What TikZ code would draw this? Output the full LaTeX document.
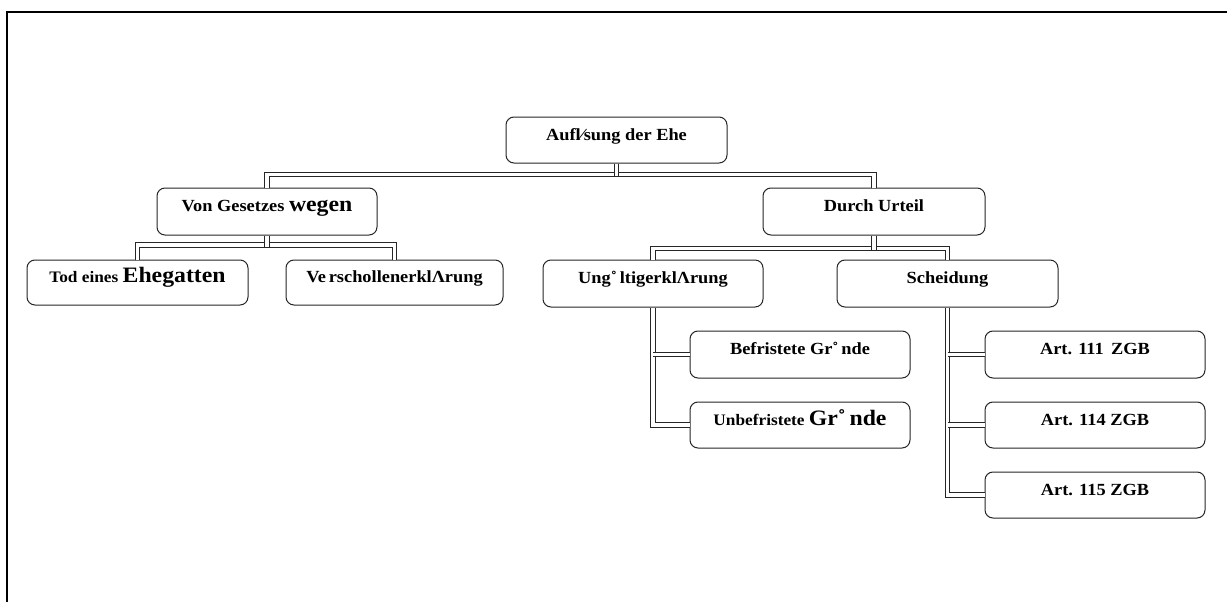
\documentclass[tikz,border=0pt]{standalone}
\usepackage{fontspec}
\setmainfont{Liberation Serif}[FakeStretch=1.08]
\usetikzlibrary{calc}
\newcommand{\normtxt}{\fontsize{17}{19}\selectfont\bfseries}
\newcommand{\smalltxt}{\fontsize{16}{18}\selectfont\bfseries}
\newcommand{\bigtxt}{\fontsize{22}{24}\selectfont\bfseries}
\tikzset{
  box/.style={draw=black!85, line width=1pt, rounded corners=8pt, fill=white,
    inner sep=0pt, text=black, font=\normtxt, text height=6pt, text depth=6pt, anchor=center},
  pipe/.style={draw=black!85, line width=1.1pt, double=white, double distance=3.4pt, line join=miter},
}
\begin{document}
\begin{tikzpicture}[x=1pt,y=-1pt]
\path[use as bounding box] (0,0) rectangle (1227,602);
\begin{scope}
\clip (0,0) rectangle (1227,602);
\draw[line width=2.2pt] (7,620) -- (7,12) -- (1240,12);
\end{scope}
% nodes
\node[box, minimum width=221, minimum height=46] (root) at (616.5,140) {Aufl⁄sung der Ehe};
\node[box, minimum width=220, minimum height=47] (vg) at (267,211.5) {{\normtxt Von Gesetzes }{\bigtxt wegen}};
\node[box, minimum width=222, minimum height=47] (du) at (874,211.5) {Durch Urteil};
\node[box, minimum width=221, minimum height=45] (tod) at (137.5,282.5) {{\smalltxt Tod eines }{\bigtxt Ehegatten}};
\node[box, minimum width=217, minimum height=45] (ver) at (394.5,282.5) {Ve\,rschollenerklΛrung};
\node[box, minimum width=220, minimum height=47] (ung) at (653,283.5) {Ung˚\,ltigerklΛrung};
\node[box, minimum width=221, minimum height=47] (sch) at (947.5,283.5) {Scheidung};
\node[box, minimum width=220, minimum height=47] (bef) at (800,354.5) {Befristete Gr˚\,nde};
\node[box, minimum width=220, minimum height=46] (unb) at (800,425) {{\smalltxt Unbefristete }{\bigtxt Gr˚\,nde}};
\node[box, minimum width=220, minimum height=47] (a111) at (1095,354.5) {Art. 111\, ZGB};
\node[box, minimum width=220, minimum height=46] (a114) at (1095,425) {Art. 114 ZGB};
\node[box, minimum width=220, minimum height=46] (a115) at (1095,495) {Art. 115 ZGB};
% connectors
\coordinate (b1) at (0,174.5);
\coordinate (b2) at (0,245);
\coordinate (b3) at (0,248.5);
\draw[pipe] (vg.north) |- (b1 -| du.north) -- (du.north);
\draw[pipe] (root.south) -- ($(root.south |- b1)+(0,1.8)$);
\draw[pipe] (tod.north) |- (b2 -| ver.north) -- (ver.north);
\draw[pipe] (vg.south) -- ($(vg.south |- b2)+(0,1.8)$);
\draw[pipe] (ung.north) |- (b3 -| sch.north) -- (sch.north);
\draw[pipe] (du.south) -- ($(du.south |- b3)+(0,1.8)$);
\draw[pipe] (ung.south) |- (unb.west);
\draw[pipe] (ung.south |- bef.west) -- (bef.west);
\draw[pipe] (sch.south) |- (a115.west);
\draw[pipe] (sch.south |- a111.west) -- (a111.west);
\draw[pipe] (sch.south |- a114.west) -- (a114.west);
\end{tikzpicture}
\end{document}
